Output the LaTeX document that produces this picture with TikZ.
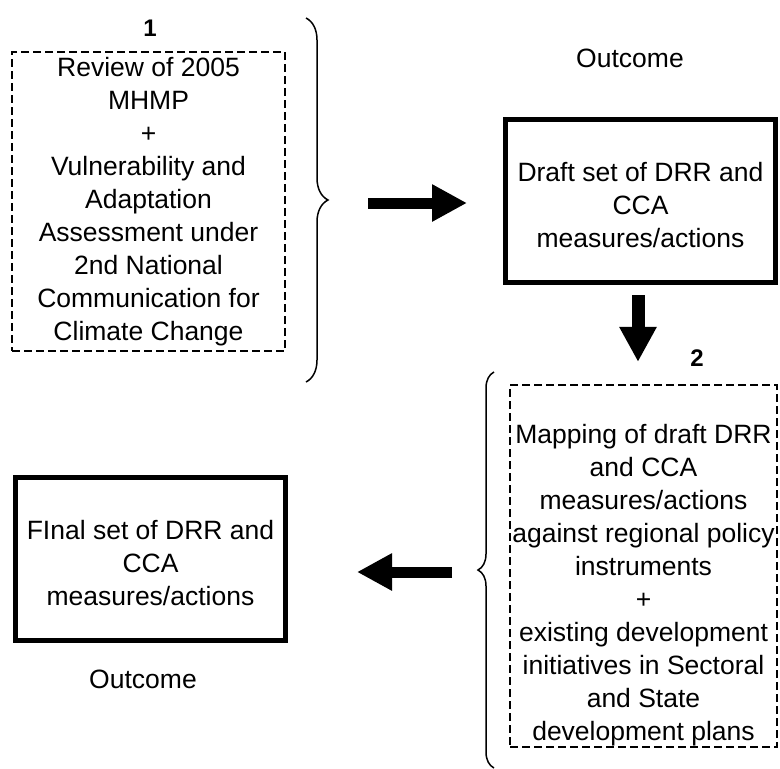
\documentclass[tikz,border=0pt]{standalone}
\usepackage{fontspec}
\setmainfont{Liberation Sans}
\usetikzlibrary{arrows.meta,decorations.pathreplacing}
\begin{document}
\begin{tikzpicture}[x=1pt,y=-1pt,
  txt/.style={font=\fontsize{26.5}{33}\selectfont, align=center, inner sep=0pt},
  lbl/.style={font=\fontsize{24}{28}\selectfont\bfseries, inner sep=0pt},
  dbox/.style={draw, line width=2.2pt, dash pattern=on 8pt off 4pt, inner sep=0pt},
  sbox/.style={draw, line width=5pt, inner sep=0pt, minimum width=270pt, minimum height=163pt},
  bigarrow/.style={line width=11pt, -{Triangle[length=35pt,width=35pt]}},
  bracestyle/.style={draw, line width=1.5pt, decorate}
]
\useasboundingbox (0,0) rectangle (780,769);

% step 1
\node[lbl] (l1) at (150,28) {1};
\node[dbox, minimum width=273pt, minimum height=299pt, txt] (b1) at (148.5,201.5)
  {Review of 2005\\MHMP\\+\\Vulnerability and\\Adaptation\\Assessment under\\2nd National\\Communication for\\Climate Change};
\coordinate (br1a) at (306,18);
\coordinate (br1b) at (306,382);
\draw[bracestyle, decoration={brace, amplitude=22pt}] (br1a) -- (br1b);
\coordinate (br1) at (328,203);

% outcome 1
\node[txt] (o1) at (630,58) {Outcome};
\node[sbox] (draft) at (640.5,201) {};
\node[txt] (tdraft) at (640.5,205) {Draft set of DRR and\\CCA\\measures/actions};

\draw[bigarrow, shorten <=40pt, shorten >=36pt] (br1) -- (br1 -| draft.west);

% step 2
\node[lbl] (l2) at (697,358) {2};
\node[dbox, minimum width=267pt, minimum height=362pt] (b2) at (643.5,566) {};
\node[txt] (t2) at (643.5,585)
  {Mapping of draft DRR\\and CCA\\measures/actions\\against regional policy\\instruments\\+\\existing development\\initiatives in Sectoral\\and State\\development plans};
\coordinate (br2a) at (494,768);
\coordinate (br2b) at (494,372);
\draw[bracestyle, decoration={brace, amplitude=16pt}] (br2a) -- (br2b);
\coordinate (br2) at (478,572);

\draw[bigarrow, line width=13pt, shorten <=10pt, shorten >=22pt] ([xshift=-2.5pt]draft.south) -- ([xshift=-2.5pt]draft.south |- b2.north);

% final
\node[sbox] (final) at (150.5,559) {};
\node[txt] (tfinal) at (150.5,563) {FInal set of DRR and\\CCA\\measures/actions};
\node[txt] (o2) at (143,679) {Outcome};

\draw[bigarrow, shorten <=26pt, shorten >=69pt] (br2) -- (br2 -| final.east);
\end{tikzpicture}
\end{document}
